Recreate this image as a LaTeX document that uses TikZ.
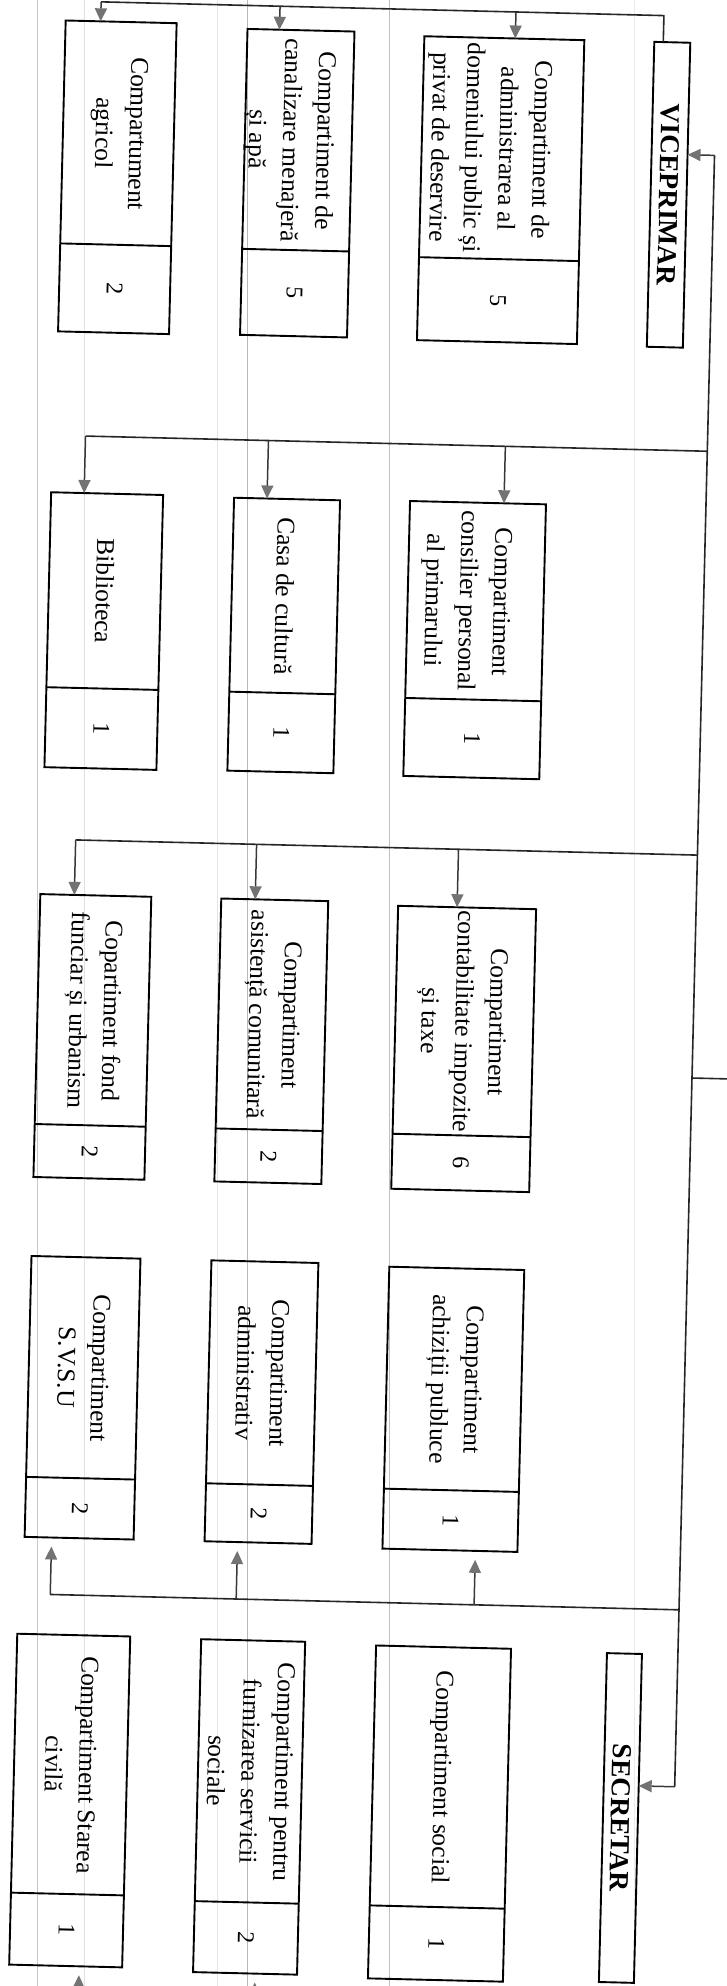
\documentclass[tikz,border=0pt]{standalone}
\usepackage{fontspec}
\setmainfont{Liberation Serif}
\usetikzlibrary{arrows.meta}
\tikzset{
  orgbox/.style={draw=black, line width=1.9pt, rectangle, inner sep=0pt, outer sep=0pt},
  divline/.style={draw=black, line width=1.9pt},
  lbl/.style={font=\fontsize{25.5}{34}\selectfont, align=center, inner sep=0pt, rotate=-90},
  numlbl/.style={font=\fontsize{24}{28}\selectfont, inner sep=0pt, rotate=-90},
  headlbl/.style={font=\fontsize{27.5}{32}\selectfont\bfseries, inner sep=0pt, rotate=-90},
  bus/.style={draw=black!85, line width=1.6pt},
  arr/.style={draw=black!78, line width=1.5pt, -{Triangle[length=13pt,width=12pt,color=black!55]}},
  scanline/.style={line width=0.9pt},
}
\newcommand{\orgunit}[9]{%
  \node[orgbox, minimum width={(#4-#2)*1pt}, minimum height={(#5-#3)*1pt}] (#1) at ({(#2+#4)/2},{(#3+#5)/2}) {};
  \draw[divline] (#2,#6) -- (#4,#6);
  \node[lbl] (#1-t) at ({(#2+#4)/2+#7},{(#3+#6)/2}) {#8};
  \node[numlbl] (#1-n) at ({(#2+#4)/2},{(#6+#5)/2}) {#9};
}
\begin{document}
\begin{tikzpicture}[x=1pt,y=-1pt]
\useasboundingbox (0,0) rectangle (727,1986);
\clip (0,0) rectangle (727,1986);
\fill[white] (0,0) rectangle (727,1986);
% faint scanner streaks
\draw[scanline, black!22] (37,0) -- (37,1986);
\draw[scanline, black!12] (84,0) -- (84,1986);
\draw[scanline, black!10] (217,0) -- (217,1986);
\draw[scanline, black!28] (247,0) -- (247,1986);
\draw[scanline, black!25] (389,0) -- (389,1986);
\draw[scanline, black!8] (634,0) -- (634,1986);
\begin{scope}[rotate around={-1.4:(363.5,993)}, transform shape]
% row 1
\orgunit{agri}{42}{28}{153}{339}{251}{0}{Compartument\\agricol}{2}
\orgunit{cana}{224}{32}{331}{338}{252}{-9}{Compartiment de\\canalizare menajeră\\și apă}{5}
\orgunit{admin}{401}{35}{561}{339}{256}{-13}{Compartiment de\\administrarea al\\domeniului public și\\privat de deservire}{5}
\node[orgbox, minimum width=36pt, minimum height=305pt] (vice) at (649,187.5) {};
\node[headlbl] (vice-t) at (vice.center) {VICEPRIMAR};
% row 2
\orgunit{bibl}{39}{500}{151}{775}{695}{0}{Biblioteca}{1}
\orgunit{casa}{222}{501}{328}{774}{695}{0}{Casa de cultură}{1}
\orgunit{cons}{398}{500}{534}{775}{697}{-10}{Compartiment\\consilier personal\\al primarului}{1}
% row 3
\orgunit{fond}{38}{902}{149}{1185}{1132}{0}{Copartiment fond\\funciar și urbanism}{2}
\orgunit{asis}{219}{902}{326}{1185}{1132}{0}{Compartiment\\asistență comunitară}{2}
\orgunit{cont}{396}{905}{534}{1188}{1133}{-3}{Compartiment\\contabilitate impozite\\și taxe}{6}
% row 4
\orgunit{svsu}{38}{1264}{147}{1545}{1485}{0}{Compartiment\\S.V.S.U}{2}
\orgunit{admv}{218}{1264}{325}{1545}{1487}{0}{Compartiment\\administrativ}{2}
\orgunit{achz}{396}{1266}{531}{1548}{1488}{0}{Compartiment\\achiziții publuce}{1}
% row 5
\orgunit{stci}{33}{1642}{146}{1973}{1901}{0}{Compartiment Starea\\civilă}{1}
\orgunit{furn}{217}{1643}{321}{1976}{1905}{0}{Compartiment pentru\\furnizarea servicii\\sociale}{2}
\orgunit{soc}{392}{1645}{527}{1978}{1905}{0}{Compartiment social}{1}
\node[orgbox, minimum width=35pt, minimum height=329pt] (secr) at (640.5,1811.5) {};
\node[headlbl] (secr-t) at (secr.center) {SECRETAR};

% group 1 (from VICEPRIMAR)
\coordinate (b1r) at (640,8.5);
\coordinate (b1l) at (77,8.5);
\coordinate (b1m) at (256,8.5);
\coordinate (b1n) at (492,8.5);
\draw[bus] (vice.north -| b1r) -- (b1r) -- (b1l);
\draw[arr] (b1l) -- (b1l |- agri.north);
\draw[arr] (b1m) -- (b1m |- cana.north);
\draw[arr] (b1n) -- (b1n |- admin.north);

% spine
\coordinate (sp1) at (694,147);
\coordinate (sp2) at (694,1779);
\coordinate (spm) at (694,1070);
\coordinate (offp) at (790,1070);
\draw[bus] (sp1) -- (sp2);
\draw[arr] (sp1) -- (sp1 -| vice.east);
\draw[arr] (sp2) -- (sp2 -| secr.east);
\draw[bus] (spm) -- (offp);

% group 2
\coordinate (b2r) at (694,443);
\coordinate (b2l) at (72,443);
\coordinate (b2m) at (255,443);
\coordinate (b2n) at (492,443);
\draw[bus] (b2r) -- (b2l);
\draw[arr] (b2l) -- (b2l |- bibl.north);
\draw[arr] (b2m) -- (b2m |- casa.north);
\draw[arr] (b2n) -- (b2n |- cons.north);

% group 3
\coordinate (b3r) at (694,847);
\coordinate (b3l) at (72,847);
\coordinate (b3m) at (253,847);
\coordinate (b3n) at (455,847);
\draw[bus] (b3r) -- (b3l);
\draw[arr] (b3l) -- (b3l |- fond.north);
\draw[arr] (b3m) -- (b3m |- asis.north);
\draw[arr] (b3n) -- (b3n |- cont.north);

% group 4
\coordinate (b4r) at (694,1602);
\coordinate (b4l) at (65,1602);
\coordinate (b4m) at (251,1602);
\coordinate (b4n) at (489,1602);
\draw[bus] (b4r) -- (b4l);
\draw[arr, shorten >=9pt] (b4l) -- (b4l |- svsu.south);
\draw[arr, shorten >=9pt] (b4m) -- (b4m |- admv.south);
\draw[arr, shorten >=9pt] (b4n) -- (b4n |- achz.south);

% group 5 (arrows coming from below the page)
\coordinate (b5l) at (103,2050);
\coordinate (b5m) at (279,2050);
\coordinate (b5n) at (484,2050);
\draw[arr, shorten >=9pt] (b5l) -- (b5l |- stci.south);
\draw[arr, shorten >=9pt] (b5m) -- (b5m |- furn.south);
\draw[arr, shorten >=9pt] (b5n) -- (b5n |- soc.south);
\end{scope}
\end{tikzpicture}
\end{document}
